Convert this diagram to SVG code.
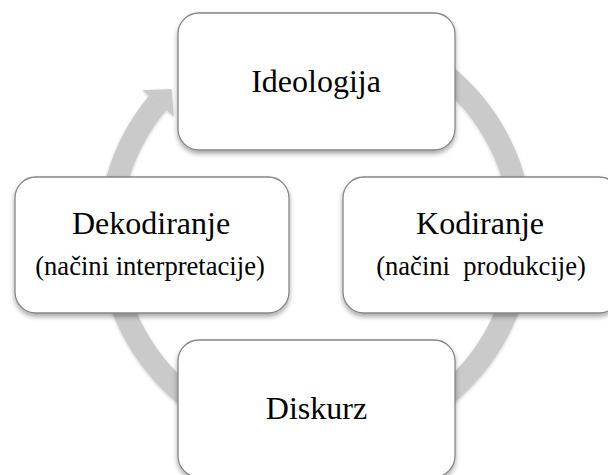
<svg xmlns="http://www.w3.org/2000/svg" width="608" height="475" viewBox="0 0 608 475">
  <defs>
    <filter id="sh" x="-10%" y="-10%" width="130%" height="130%">
      <feDropShadow dx="0" dy="3" stdDeviation="2.5" flood-color="#000" flood-opacity="0.35"/>
    </filter>
    <filter id="ash" x="-10%" y="-10%" width="120%" height="120%">
      <feDropShadow dx="0" dy="1" stdDeviation="1.5" flood-color="#000" flood-opacity="0.2"/>
    </filter>
  </defs>
  <style>
    .box { fill: #ffffff; stroke: #858585; stroke-width: 1.3; filter: url(#sh); }
    text { font-family: 'Liberation Serif', 'Times New Roman', serif; fill: #000; text-anchor: middle; }
    .t1 { font-size: 32px; }
    .t2 { font-size: 26.6px; white-space: pre; }
    .ring { fill: none; stroke: #cacaca; stroke-width: 22.5; }
    .head { fill: #cacaca; }
  </style>
  <g id="connectors" filter="url(#ash)">
    <path class="ring" d="M 351.3 32.6 A 206 206 0 1 1 157.7 103.1"/>
    <polygon class="head" points="142.4,90.2 171.5,89 173.8,116.6"/>
  </g>
  <g id="ideologija">
    <rect class="box" x="178" y="13" width="277" height="137" rx="21"/>
    <text class="t1" x="316" y="92" font-family="Liberation Serif, serif" font-size="35">Ideologija</text>
  </g>
  <g id="dekodiranje">
    <rect class="box" x="15" y="177" width="274" height="136" rx="21"/>
    <text class="t1" x="151" y="234" font-family="Liberation Serif, serif">Dekodiranje</text>
    <text class="t2" x="150" y="275" font-family="Liberation Serif, serif">(načini interpretacije)</text>
  </g>
  <g id="kodiranje">
    <rect class="box" x="343" y="177" width="277" height="136" rx="21"/>
    <text class="t1" x="480" y="234" font-family="Liberation Serif, serif">Kodiranje</text>
    <text class="t2" x="481" y="275" font-family="Liberation Serif, serif" xml:space="preserve">(načini  produkcije)</text>
  </g>
  <g id="diskurz">
    <rect class="box" x="178" y="340" width="277" height="137" rx="21"/>
    <text class="t1" x="316.5" y="419" font-family="Liberation Serif, serif">Diskurz</text>
  </g>
</svg>
